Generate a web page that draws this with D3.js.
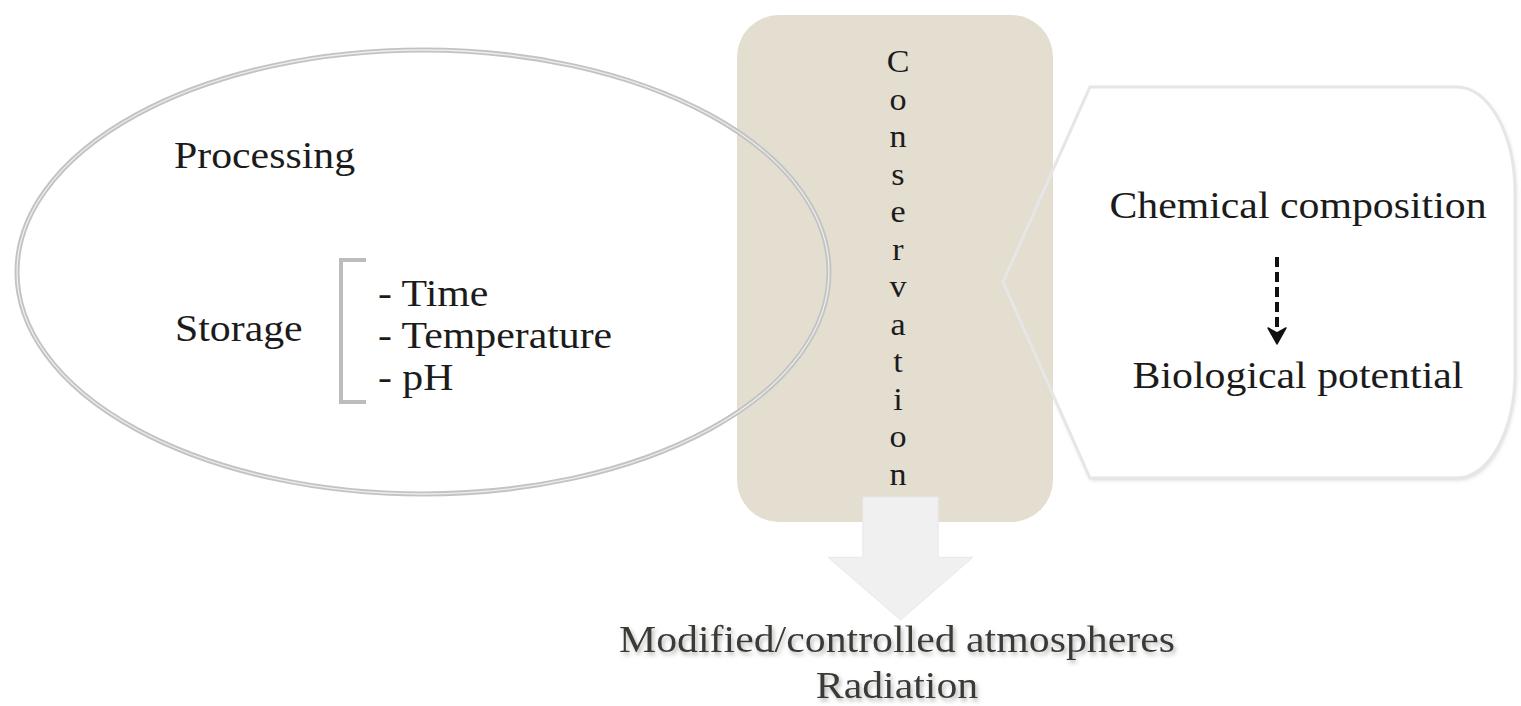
<!DOCTYPE html>
<html lang="en">
<head>
    <meta charset="UTF-8">
    <title>Conservation diagram</title>
    <script src="https://d3js.org/d3.v7.min.js"></script>
    <style>
        body { margin: 0; background: #fff; }
        text { font-family: "Liberation Serif", "Times New Roman", serif; fill: #1b1b1b; }
        .outcome { fill: #3a3a36; }
    </style>
</head>
<body>
<script>
// Labels of the diagram
const leftLabels = ["Processing", "Storage"];
const storageFactors = ["- Time", "- Temperature", "- pH"];
const boxWord = "Conservation";
const rightLabels = ["Chemical composition", "Biological potential"];
const outcomeLabels = ["Modified/controlled atmospheres", "Radiation"];

const width = 1521, height = 706;
const stretch = 1.1;   // text in the picture is a bit wider than Times

const svg = d3.select("body").append("svg")
    .attr("width", width)
    .attr("height", height);

const defs = svg.append("defs");
const sh = defs.append("filter").attr("id", "soft").attr("x", "-10%").attr("y", "-10%").attr("width", "120%").attr("height", "120%");
sh.append("feDropShadow").attr("dx", 1).attr("dy", 2).attr("stdDeviation", 2).attr("flood-color", "#bbb").attr("flood-opacity", 0.6);
const tsh = defs.append("filter").attr("id", "tshadow").attr("x", "-5%").attr("y", "-30%").attr("width", "110%").attr("height", "160%");
tsh.append("feDropShadow").attr("dx", 2).attr("dy", 3).attr("stdDeviation", 2).attr("flood-color", "#999").attr("flood-opacity", 0.7);

// helper for stretched text
function label(g, str, x, y, size, anchor) {
    return g.append("text")
        .attr("transform", `translate(${x},${y}) scale(${stretch},1)`)
        .attr("font-size", size)
        .attr("text-anchor", anchor || "start")
        .text(str);
}

// right panel (white fill sits behind the box)
const panelPath = "M1090,87 H1457 A58,106 0 0 1 1515,193 V372 A58,106 0 0 1 1457,478 H1090 L1003,282 Z";
svg.append("path").attr("d", panelPath).attr("fill", "#fff").attr("filter", "url(#soft)");

// beige box
svg.append("rect")
    .attr("x", 737).attr("y", 15)
    .attr("width", 316).attr("height", 507)
    .attr("rx", 42)
    .attr("fill", "#e3decf");

// panel outline drawn over the box
svg.append("path").attr("d", panelPath)
    .attr("fill", "none")
    .attr("stroke", "#e6e6e6")
    .attr("stroke-width", 3);

// ellipse, double grey line
svg.append("ellipse")
    .attr("cx", 423).attr("cy", 272).attr("rx", 406).attr("ry", 222)
    .attr("fill", "none").attr("stroke", "#c3c3c3").attr("stroke-width", 5);
svg.append("ellipse")
    .attr("cx", 423).attr("cy", 272).attr("rx", 406).attr("ry", 222)
    .attr("fill", "none").attr("stroke", "#ededed").attr("stroke-width", 1.3);

// vertical letters in the box
const yLetter = d3.scaleLinear().domain([0, boxWord.length - 1]).range([72, 485]);
svg.append("g").selectAll("text")
    .data(boxWord.split(""))
    .join("text")
    .attr("transform", (d, i) => `translate(898,${yLetter(i)}) scale(${stretch},1)`)
    .attr("text-anchor", "middle")
    .attr("font-size", 31)
    .text(d => d);

// big down arrow
const ax = d3.scaleLinear().domain([-1, 1]).range([828, 973]);
const ay = d3.scaleLinear().domain([0, 1]).range([497, 620]);
const arrowPts = [[-0.52, 0], [0.52, 0], [0.52, 0.49], [1, 0.49], [0, 1], [-1, 0.49], [-0.52, 0.49]];
svg.append("path")
    .attr("d", d3.line().x(d => ax(d[0])).y(d => ay(d[1]))(arrowPts) + "Z")
    .attr("fill", "#f0f0f0")
    .attr("stroke", "#e8e8e8")
    .attr("stroke-width", 1);

// left labels
const gl = svg.append("g");
label(gl, leftLabels[0], 174, 168, 38);
label(gl, leftLabels[1], 175, 341, 38);

// bracket
svg.append("path")
    .attr("d", "M366,260 H341 V402 H366")
    .attr("fill", "none")
    .attr("stroke", "#bcbcbc")
    .attr("stroke-width", 4);

const yFactor = d3.scalePoint().domain(storageFactors).range([306, 390]);
storageFactors.forEach(f => label(gl, f, 378, yFactor(f), 38));

// right panel labels
const gr = svg.append("g");
label(gr, rightLabels[0], 1298, 218, 38, "middle");
label(gr, rightLabels[1], 1298, 388, 38, "middle");

// dashed arrow
svg.append("line")
    .attr("x1", 1277).attr("y1", 257).attr("x2", 1277).attr("y2", 334)
    .attr("stroke", "#111").attr("stroke-width", 4)
    .attr("stroke-dasharray", "10,5");
svg.append("path")
    .attr("d", "M1268,328 L1277,344 L1286,328 L1277,333 Z")
    .attr("fill", "#111")
    .attr("stroke", "#111")
    .attr("stroke-width", 1.5)
    .attr("stroke-linejoin", "round");

// outcome labels
const go = svg.append("g").attr("filter", "url(#tshadow)");
label(go, outcomeLabels[0], 897, 652, 38, "middle").attr("class", "outcome");
label(go, outcomeLabels[1], 897, 698, 38, "middle").attr("class", "outcome");
</script>
</body>
</html>
